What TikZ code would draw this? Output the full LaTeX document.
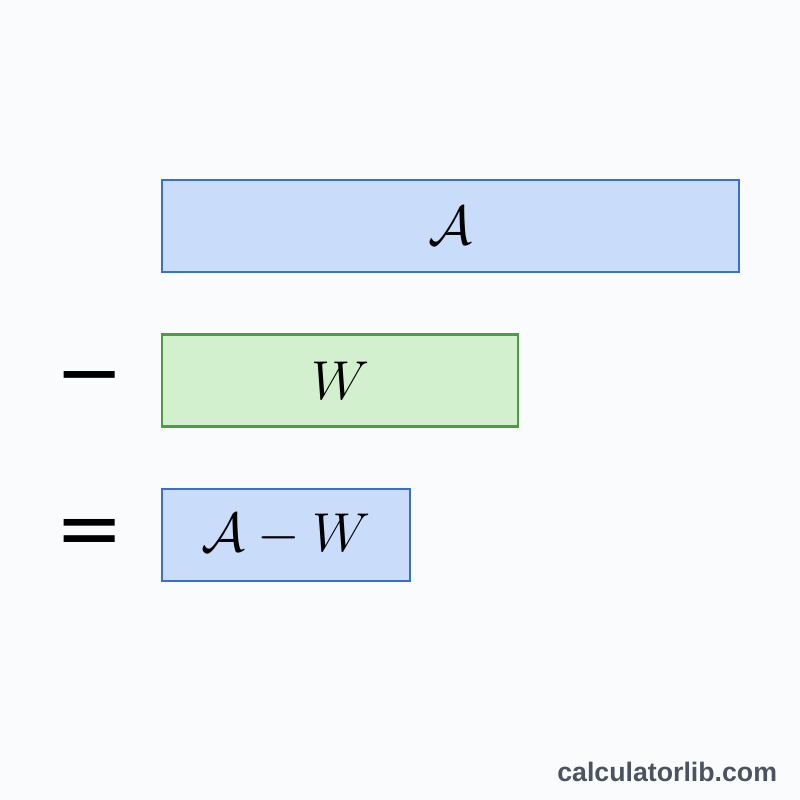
\RequirePackage{fix-cm}
\documentclass[tikz,border=0pt]{standalone}
\usepackage{fontspec}
\newfontfamily\wmfont{Liberation Sans}
\newfontfamily\opfont{DejaVu Sans}
\usetikzlibrary{positioning}

\definecolor{setblue}{HTML}{C9DCFA}
\definecolor{setblueline}{HTML}{3A6FCC}
\definecolor{setgreen}{HTML}{D3F0CE}
\definecolor{setgreenline}{HTML}{4A9E40}
\definecolor{wmgray}{HTML}{4B5260}
\definecolor{paper}{HTML}{FAFBFC}

\tikzset{
  setbox/.style={draw, line width=1.6pt, minimum height=2.3cm, inner sep=0pt,
    font=\fontsize{39}{45}\selectfont},
  bluebox/.style={setbox, fill=setblue, draw=setblueline},
  greenbox/.style={setbox, fill=setgreen, draw=setgreenline},
  opsign/.style={font=\opfont\fontsize{58}{64}\selectfont, inner sep=0pt}
}

\begin{document}
\begin{tikzpicture}
  \pgfmathsetmacro {\xl}{4.025}   %left edge of all bars
  \pgfmathsetmacro {\xs}{2.25}    %operator column
  \fill[paper] (0,0) rectangle (20,20) ; %page
  \useasboundingbox (0,0) rectangle (20,20) ;

  %Draw the three bars
  \node[bluebox, minimum width=14.425cm, anchor=west] (setA) at (\xl,14.35) {$\mathcal{A}$};
  \node[greenbox, minimum width=8.9cm, anchor=west] (setW) at (\xl,10.49) {$W$};
  \node[bluebox, minimum width=6.2cm, anchor=west] (diff) at (\xl,6.625) {$\mathcal{A}-W$};

  %Operators
  \node[opsign] (minus) at (\xs,10.36) {−};
  \node[opsign] (equal) at (\xs,6.55) {=};

  %Watermark
  \node[font=\wmfont\bfseries\fontsize{19}{21}\selectfont, text=wmgray, anchor=east]
    (mark) at (19.55,0.7) {calculatorlib.com};
\end{tikzpicture}
\end{document}
